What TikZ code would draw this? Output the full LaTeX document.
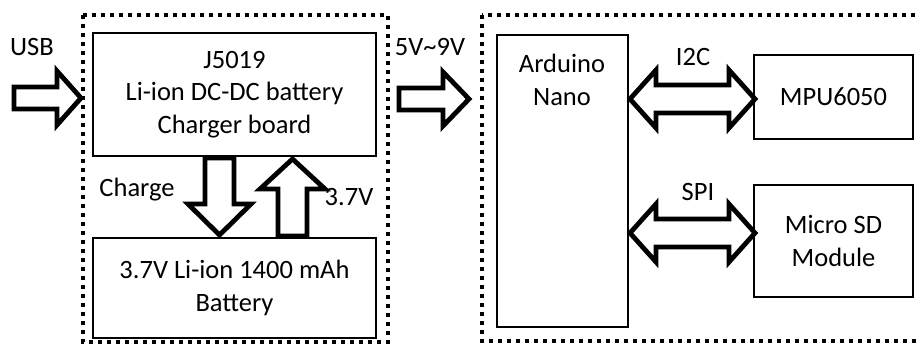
\documentclass[tikz,border=0pt]{standalone}
\usepackage{fontspec}
\setmainfont{Carlito}
\begin{document}
\begin{tikzpicture}[x=1pt,y=-1pt,
  box/.style={draw, line width=1.8pt, inner sep=0pt, align=center, font=\fontsize{26.5}{32.5}\selectfont},
  grp/.style={draw, line width=3.8pt, dash pattern=on 3.8pt off 5.2pt},
  blk/.style={draw, line width=4.8pt, fill=white, line join=miter},
  lbl/.style={font=\fontsize{26.5}{32.5}\selectfont, inner sep=0pt, align=center}]
\useasboundingbox (0,0) rectangle (920,347);
% group boxes
\draw[grp] (83,15) rectangle (388,342);
\draw[grp] (482,15) rectangle (935,341);
% boxes
\node[box, minimum width=283pt, minimum height=123pt] (charger) at (234.5,94.5) {J5019\\Li-ion DC-DC battery\\Charger board};
\node[box, minimum width=283pt, minimum height=100pt] (battery) at (234.5,288) {3.7V Li-ion 1400 mAh\\Battery};
\node[box, minimum width=131pt, minimum height=292pt] (arduino) at (562.5,181) {};
\node[lbl] (ardtext) at (562,80) {Arduino\\Nano};
\node[box, minimum width=159pt, minimum height=84pt] (mpu) at (833.5,97) {MPU6050};
\node[box, minimum width=159pt, minimum height=112pt] (sd) at (833.5,241) {Micro SD\\Module};
% block arrows
\draw[blk] (14,87) -- (57,87) -- (57,71) -- (81,98) -- (57,125) -- (57,109) -- (14,109) -- cycle;
\draw[blk] (399,88) -- (443,88) -- (443,72) -- (469,99) -- (443,126) -- (443,110) -- (399,110) -- cycle;
\draw[blk] (205,158) -- (234,158) -- (234,204) -- (251,204) -- (219.5,235) -- (188,204) -- (205,204) -- cycle;
\draw[blk] (278,236) -- (278,189) -- (260,189) -- (292.5,159) -- (325,189) -- (307,189) -- (307,236) -- cycle;
\draw[blk] (630,99) -- (656,70) -- (656,85) -- (729,85) -- (729,70) -- (755,99) -- (729,128) -- (729,113) -- (656,113) -- (656,128) -- cycle;
\draw[blk] (630,233) -- (656,204) -- (656,219) -- (729,219) -- (729,204) -- (755,233) -- (729,262) -- (729,247) -- (656,247) -- (656,262) -- cycle;
% labels
\node[lbl] (usb) at (32,47) {USB};
\node[lbl] (charge) at (137,190) {Charge};
\node[lbl] (v37) at (349,197) {3.7V};
\node[lbl] (v59) at (430,47) {5V\textasciitilde 9V};
\node[lbl] (i2c) at (693,57) {I2C};
\node[lbl] (spi) at (698,192) {SPI};
\end{tikzpicture}
\end{document}
